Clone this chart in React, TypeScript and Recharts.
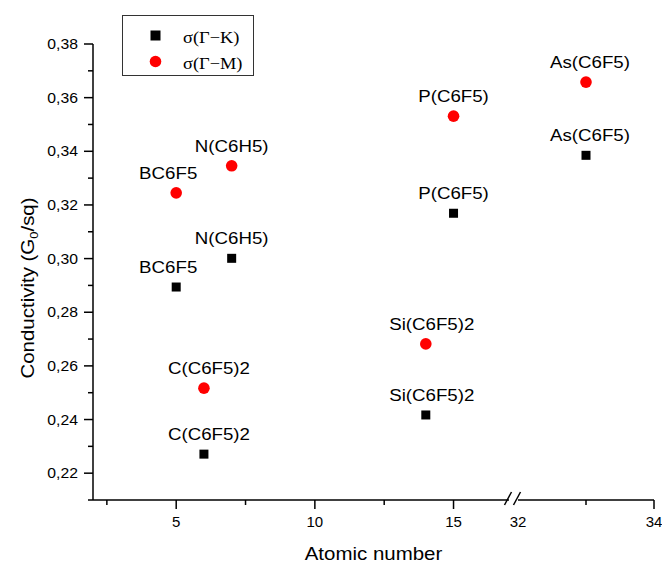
import React from "react";
import { ScatterChart, Scatter, XAxis, YAxis } from "recharts";

// ─── Data ─────────────────────────────────────────────────────────────────────

const compounds = ["BC6F5", "C(C6F5)2", "N(C6H5)", "Si(C6F5)2", "P(C6F5)", "As(C6F5)"];
const atomicNumbers = [5, 6, 7, 14, 15, 33];
const sigmaGK = [0.2894, 0.2271, 0.3001, 0.2417, 0.3169, 0.3385];
const sigmaGM = [0.3245, 0.2517, 0.3346, 0.2682, 0.3531, 0.3658];
const seriesNames = ["σ(Γ−K)", "σ(Γ−M)"];

const yTicks = [0.21, 0.22, 0.23, 0.24, 0.25, 0.26, 0.27, 0.28, 0.29, 0.3, 0.31, 0.32, 0.33, 0.34, 0.35, 0.36, 0.37, 0.38];
const leftXTicks = [2.5, 5, 7.5, 10, 12.5, 15, 17];
const leftMajor = [5, 10, 15];
const rightXTicks = [32, 33, 34];
const rightMajor = [32, 34];

// ─── Layout / style ───────────────────────────────────────────────────────────

const W = 662;
const H = 563;
const PLOT_TOP = 44;
const PLOT_BOTTOM = 500;
const LEFT_X0 = 93;
const LEFT_X1 = 509;
const RIGHT_X0 = 518;
const RIGHT_X1 = 654;
const LEFT_CHART_W = 520;
const RIGHT_CHART_LEFT = 500;
const RIGHT_CHART_W = W - RIGHT_CHART_LEFT;
const X_AXIS_H = 40;

const SANS = "'Liberation Sans', Arial, sans-serif";
const SERIF = "'Liberation Serif', 'Times New Roman', serif";
const RED = "#ff0000";
const AXIS_W = 1.5;

// small horizontal nudges of the point labels, as in the original figure
const LABEL_DX: Record<string, number> = {
  BC6F5: -8,
  "C(C6F5)2": 5,
  "N(C6H5)": 0,
  "Si(C6F5)2": 6,
  "P(C6F5)": 0,
  "As(C6F5)": 4,
};

type Row = { x: number; y: number; label: string };

const rowsFor = (values: number[]): Row[] =>
  atomicNumbers.map((z, i) => ({ x: z, y: values[i], label: compounds[i] }));

const kRows = rowsFor(sigmaGK);
const mRows = rowsFor(sigmaGM);
const BREAK_LO = 17;
const BREAK_HI = 32;

// ─── Text helper (the original text is drawn slightly wide) ───────────────────

function SText({
  x,
  y,
  size,
  sx = 1,
  anchor = "middle",
  rotate = 0,
  family = SANS,
  children,
}: {
  x: number;
  y: number;
  size: number;
  sx?: number;
  anchor?: "start" | "middle" | "end";
  rotate?: number;
  family?: string;
  children: React.ReactNode;
}) {
  return (
    <text
      transform={`translate(${x} ${y}) rotate(${rotate}) scale(${sx} 1)`}
      textAnchor={anchor}
      fontSize={size}
      fontFamily={family}
      fill="#000"
    >
      {children}
    </text>
  );
}

// ─── Ticks ────────────────────────────────────────────────────────────────────

function YTick({ x, y, payload }: any) {
  const v = payload.value as number;
  const major = Math.round(v * 100) % 2 === 0;
  return (
    <g>
      <line x1={x} x2={x - (major ? 9 : 5)} y1={y} y2={y} stroke="#000" strokeWidth={AXIS_W} />
      {major && (
        <SText x={x - 15} y={y + 5} size={15} sx={1.05} anchor="end">
          {v.toFixed(2).replace(".", ",")}
        </SText>
      )}
    </g>
  );
}

const makeXTick = (majors: number[], breakValue: number) =>
  function XTick({ x, y, payload }: any) {
    const v = payload.value as number;
    const major = majors.includes(v);
    return (
      <g>
        {v === breakValue ? (
          <line x1={x - 4.5} y1={y + 5} x2={x + 2.5} y2={y - 8} stroke="#000" strokeWidth={AXIS_W} />
        ) : (
          <line x1={x} x2={x} y1={y} y2={y + (major ? 9 : 5)} stroke="#000" strokeWidth={AXIS_W} />
        )}
        {major && (
          <SText x={x} y={y + 27} size={15}>
            {v}
          </SText>
        )}
      </g>
    );
  };

const LeftXTick = makeXTick(leftMajor, BREAK_LO);
const RightXTick = makeXTick(rightMajor, BREAK_HI);

// ─── Markers with their compound labels ───────────────────────────────────────

const makeShape = (kind: "square" | "circle") =>
  function PointShape(props: any) {
    const { cx, cy, payload } = props;
    const dx = LABEL_DX[payload.label] ?? 0;
    return (
      <g>
        {kind === "square" ? (
          <rect x={cx - 4.5} y={cy - 4.5} width={9} height={9} fill="#000" />
        ) : (
          <circle cx={cx} cy={cy} r={5.8} fill={RED} />
        )}
        <SText x={cx + dx} y={cy - 14} size={17} sx={1.1}>
          {payload.label}
        </SText>
      </g>
    );
  };

const SquareShape = makeShape("square");
const CircleShape = makeShape("circle");

// ─── Broken-axis panel ────────────────────────────────────────────────────────

function Panel({
  width,
  left,
  domain,
  ticks,
  tick,
  showY,
  rows,
}: {
  width: number;
  left: number;
  domain: [number, number];
  ticks: number[];
  tick: any;
  showY: boolean;
  rows: (r: Row[]) => Row[];
}) {
  const x0 = showY ? LEFT_X0 : RIGHT_X0;
  const x1 = showY ? LEFT_X1 : RIGHT_X1;
  const yAxisW = showY ? 60 : 0;
  return (
    <div style={{ position: "absolute", left, top: 0 }}>
      <ScatterChart
        width={width}
        height={H}
        margin={{
          top: PLOT_TOP,
          bottom: H - PLOT_BOTTOM - X_AXIS_H,
          left: x0 - left - yAxisW,
          right: left + width - x1,
        }}
      >
        <XAxis
          type="number"
          dataKey="x"
          domain={domain}
          ticks={ticks}
          interval={0}
          height={X_AXIS_H}
          axisLine={{ stroke: "#000", strokeWidth: AXIS_W }}
          tickLine={false}
          tickSize={0}
          tickMargin={0}
          tick={tick}
        />
        <YAxis
          type="number"
          dataKey="y"
          domain={[0.21, 0.38]}
          ticks={yTicks}
          interval={0}
          width={yAxisW}
          hide={!showY}
          axisLine={{ stroke: "#000", strokeWidth: AXIS_W }}
          tickLine={false}
          tickSize={0}
          tickMargin={0}
          tick={YTick}
        />
        <Scatter
          name={seriesNames[0]}
          data={rows(kRows)}
          fill="#000"
          shape={SquareShape}
          isAnimationActive={false}
        />
        <Scatter
          name={seriesNames[1]}
          data={rows(mRows)}
          fill={RED}
          shape={CircleShape}
          isAnimationActive={false}
        />
      </ScatterChart>
    </div>
  );
}

// ─── Legend ───────────────────────────────────────────────────────────────────

function LegendBox() {
  const items = [
    { name: seriesNames[0], kind: "square" },
    { name: seriesNames[1], kind: "circle" },
  ];
  return (
    <div
      style={{
        position: "absolute",
        left: 122,
        top: 15,
        width: 130,
        height: 59,
        border: "1px solid #333",
        background: "#fff",
      }}
    >
      <svg width={130} height={59} style={{ display: "block" }}>
        {items.map((it, i) => {
          const cy = 19.5 + i * 26;
          return (
            <g key={it.name}>
              {it.kind === "square" ? (
                <rect x={27.5} y={cy - 5} width={10} height={10} fill="#000" />
              ) : (
                <circle cx={32.5} cy={cy} r={5.8} fill={RED} />
              )}
              <SText x={60} y={cy + 7.5} size={17.5} sx={1.05} anchor="start" family={SERIF}>
                {it.name}
              </SText>
            </g>
          );
        })}
      </svg>
    </div>
  );
}

// ─── App ──────────────────────────────────────────────────────────────────────

export default function App() {
  return (
    <div
      style={{
        position: "absolute",
        left: 0,
        top: 0,
        width: W,
        height: H,
        background: "#fff",
        overflow: "hidden",
      }}
    >
      <Panel
        width={LEFT_CHART_W}
        left={0}
        domain={[2, BREAK_LO]}
        ticks={leftXTicks}
        tick={LeftXTick}
        showY
        rows={(r) => r.filter((d) => d.x <= BREAK_LO)}
      />
      <Panel
        width={RIGHT_CHART_W}
        left={RIGHT_CHART_LEFT}
        domain={[BREAK_HI, 34]}
        ticks={rightXTicks}
        tick={RightXTick}
        showY={false}
        rows={(r) => r.filter((d) => d.x >= BREAK_HI)}
      />
      <svg
        width={W}
        height={H}
        style={{ position: "absolute", left: 0, top: 0, pointerEvents: "none" }}
      >
        <SText x={(LEFT_X0 + RIGHT_X1) / 2} y={560} size={17.5} sx={1.17}>
          Atomic number
        </SText>
        <SText x={34} y={288} size={17.5} sx={1.17} rotate={-90}>
          Conductivity (G
          <tspan fontSize={11} dy={4}>
            0
          </tspan>
          <tspan dy={-4}>/sq)</tspan>
        </SText>
      </svg>
      <LegendBox />
    </div>
  );
}
